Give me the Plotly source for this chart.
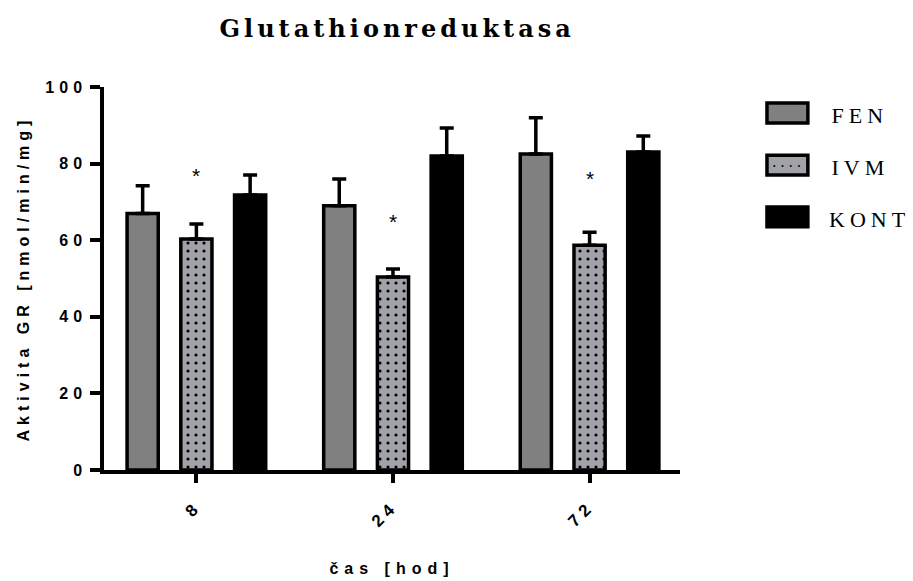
import plotly.graph_objects as go

# ---- data ----
categories = ["8", "24", "72"]
series_names = ["FEN", "IVM", "KONT"]
fen_values = [67.0, 69.0, 82.5]
fen_errors = [7.2, 7.0, 9.5]
ivm_values = [60.3, 50.4, 58.7]
ivm_errors = [3.9, 2.1, 3.4]
kont_values = [71.8, 82.0, 83.0]
kont_errors = [5.2, 7.3, 4.2]
star_positions = [77.0, 65.0, 76.0]   # y of significance asterisks above IVM bars
star_label = "*"

title_text = "Glutathionreduktasa"
x_title = "čas [hod]"
y_title = "Aktivita GR [nmol/min/mg]"
y_ticks = [0, 20, 40, 60, 80, 100]

# ---- styles ----
FEN_COLOR = "#808080"
IVM_COLOR = "#a1a1a9"
KONT_COLOR = "#000000"
SANS = "Liberation Sans"
SERIF = "Liberation Serif"
LW = 3.5

fig = go.Figure()

def err(values):
    return dict(type="data", array=values, arrayminus=[0] * len(values),
                symmetric=False, color="black", thickness=3.5, width=7)

fig.add_trace(go.Bar(
    name=series_names[0], x=categories, y=fen_values, error_y=err(fen_errors),
    marker=dict(color=FEN_COLOR, line=dict(color="black", width=LW)),
))
fig.add_trace(go.Bar(
    name=series_names[1], x=categories, y=ivm_values, error_y=err(ivm_errors),
    marker=dict(color=IVM_COLOR, line=dict(color="black", width=LW),
                pattern=dict(shape=".", fgcolor="black", bgcolor=IVM_COLOR,
                             size=8, solidity=0.12, fillmode="replace")),
))
fig.add_trace(go.Bar(
    name=series_names[2], x=categories, y=kont_values, error_y=err(kont_errors),
    marker=dict(color=KONT_COLOR, line=dict(color="black", width=LW)),
))

# significance stars (category index = middle bar of each group)
for idx, s in enumerate(star_positions):
    fig.add_annotation(x=idx, y=s, xref="x", yref="y", text=star_label, showarrow=False,
                       font=dict(family=SANS, size=21, color="black"), yanchor="middle")

# custom legend (large swatches as in the reference)
legend_colors = [FEN_COLOR, IVM_COLOR, KONT_COLOR]
legend_centers = [0.932, 0.796, 0.661]
half_h = 0.026
for name, col, yc in zip(series_names, legend_colors, legend_centers):
    fig.add_shape(type="rect", xref="paper", yref="paper", x0=1.151, x1=1.222,
                  y0=yc - half_h, y1=yc + half_h, fillcolor=col,
                  line=dict(color="black", width=LW), layer="above")
    fig.add_annotation(xref="paper", yref="paper", x=1.273, y=yc - 0.006, text=name,
                       showarrow=False, xanchor="left", yanchor="middle",
                       font=dict(family=SERIF, size=22, color="black"))
# dots inside IVM swatch
fig.add_annotation(xref="paper", yref="paper", x=1.1865, y=legend_centers[1],
                   text="•   •   •   •", showarrow=False, xanchor="center", yanchor="middle",
                   font=dict(family=SANS, size=7, color="black"))

fig.update_layout(
    width=913, height=581,
    margin=dict(l=104, r=233, t=87, b=111),
    paper_bgcolor="white", plot_bgcolor="white",
    barmode="group", bargap=0.18, bargroupgap=0.42,
    showlegend=False,
    title=dict(text=title_text, x=0.509, xref="paper", xanchor="center",
               y=1 - 29 / 581, yref="container", yanchor="middle",
               font=dict(family="DejaVu Serif", size=24, color="black", weight="bold")),
    xaxis=dict(
        type="category", range=[-0.47, 2.46],
        showline=True, linecolor="black", linewidth=LW,
        ticks="outside", ticklen=9, tickwidth=LW, tickcolor="black",
        tickangle=-45, showgrid=False, zeroline=False, ticklabelstandoff=7,
        tickfont=dict(family=SANS, size=17, color="black", weight="bold"),
        title=dict(text=x_title, standoff=41,
                   font=dict(family=SANS, size=16, color="black", weight="bold")),
        automargin=False,
    ),
    yaxis=dict(
        range=[0, 100], tickvals=y_ticks,
        showline=True, linecolor="black", linewidth=LW,
        ticks="outside", ticklen=10, tickwidth=LW, tickcolor="black",
        showgrid=False, zeroline=False,
        tickfont=dict(family=SANS, size=16, color="black", weight="bold"),
        title=dict(text=y_title, standoff=28,
                   font=dict(family=SANS, size=16, color="black", weight="bold")),
        automargin=False,
    ),
)

post = """
var gd = document.getElementById('{plot_id}');
function ls(sel, v){ gd.querySelectorAll(sel).forEach(function(e){ e.style.letterSpacing = v; }); }
ls('.gtitle', '4px');
ls('.xtitle', '6px');
ls('.ytitle', '5px');
ls('.xtick text', '5px');
ls('.ytick text', '5px');
gd.querySelectorAll('.annotation').forEach(function(a){
  var i = parseInt(a.getAttribute('data-index'));
  if (i >= 3 && i <= 5) { a.querySelectorAll('text').forEach(function(t){ t.style.letterSpacing = '5px'; }); }
});
"""

fig.write_html("out.html", post_script=post)
